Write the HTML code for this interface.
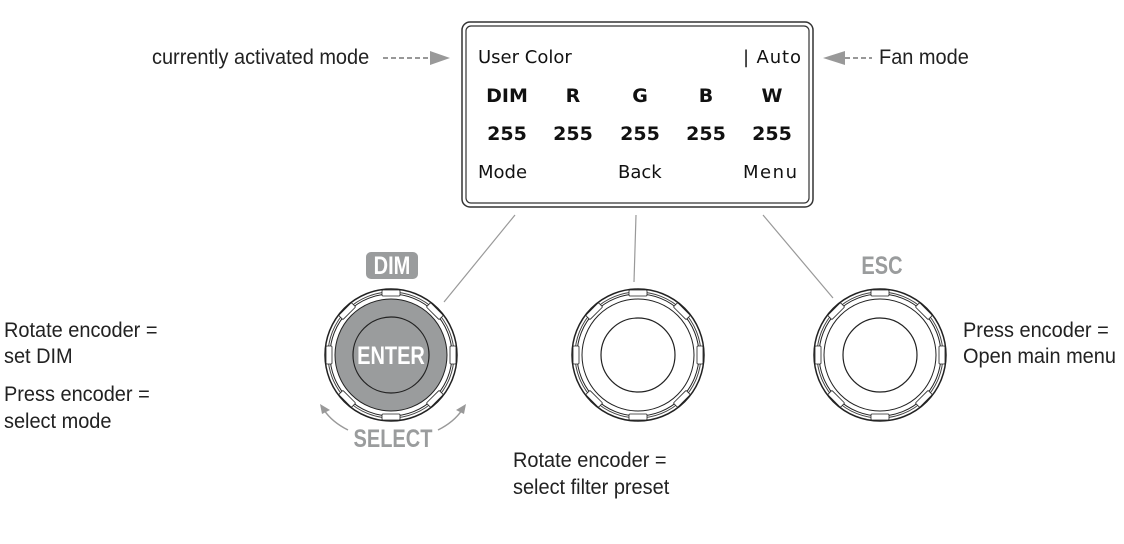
<!DOCTYPE html>
<html><head><style>
html,body{margin:0;padding:0;background:#fff;}
</style></head><body>
<svg width="1124" height="539" viewBox="0 0 1124 539" xmlns="http://www.w3.org/2000/svg">
<defs>
<g id="knob">
  <circle r="66" fill="none" stroke="#222" stroke-width="1.5"/>
  <circle r="63" fill="none" stroke="#444" stroke-width="1"/>
  <circle r="61" fill="none" stroke="#222" stroke-width="1"/>
  <circle r="56" fill="none" stroke="#222" stroke-width="1"/>
  <g fill="#fff" stroke="#222" stroke-width="0.8">
    <rect x="-9" y="-65" width="18" height="6" rx="1"/>
    <rect x="-9" y="-65" width="18" height="6" rx="1" transform="rotate(45)"/>
    <rect x="-9" y="-65" width="18" height="6" rx="1" transform="rotate(90)"/>
    <rect x="-9" y="-65" width="18" height="6" rx="1" transform="rotate(135)"/>
    <rect x="-9" y="-65" width="18" height="6" rx="1" transform="rotate(180)"/>
    <rect x="-9" y="-65" width="18" height="6" rx="1" transform="rotate(225)"/>
    <rect x="-9" y="-65" width="18" height="6" rx="1" transform="rotate(270)"/>
    <rect x="-9" y="-65" width="18" height="6" rx="1" transform="rotate(315)"/>
  </g>
</g>
</defs>

<!-- display -->
<rect x="462" y="22" width="351" height="185" rx="8" fill="none" stroke="#333" stroke-width="1.5"/>
<rect x="466" y="26" width="343" height="177" rx="5" fill="none" stroke="#333" stroke-width="1.2"/>
<g font-family="'DejaVu Sans', sans-serif" font-size="18" fill="#111">
  <text x="478" y="63">User Color</text>
  <text x="743" y="63" textLength="58">| Auto</text>
  <text x="478" y="178">Mode</text>
  <text x="618" y="178">Back</text>
  <text x="743" y="178" textLength="54">Menu</text>
  <g font-weight="bold" text-anchor="middle" font-size="19">
    <text x="507" y="102">DIM</text><text x="573" y="102">R</text><text x="640" y="102">G</text><text x="706" y="102">B</text><text x="772" y="102">W</text>
    <text x="507" y="140">255</text><text x="573" y="140">255</text><text x="640" y="140">255</text><text x="706" y="140">255</text><text x="772" y="140">255</text>
  </g>
</g>

<!-- side labels -->
<g font-family="'Liberation Sans', sans-serif" font-size="21" fill="#222">
  <g transform="scale(0.95 1)">
    <text x="160" y="64">currently activated mode</text>
    <text x="925.3" y="64">Fan mode</text>
    <text x="4.2" y="337">Rotate encoder =</text>
    <text x="4.2" y="363">set DIM</text>
    <text x="4.2" y="401">Press encoder =</text>
    <text x="4.2" y="428">select mode</text>
    <text x="1013.7" y="337">Press encoder =</text>
    <text x="1013.7" y="363">Open main menu</text>
    <text x="540" y="467">Rotate encoder =</text>
    <text x="540" y="494">select filter preset</text>
  </g>
</g>
<line x1="383" y1="58" x2="430" y2="58" stroke="#777" stroke-width="1.5" stroke-dasharray="5,3"/>
<polygon points="430,51 450,58 430,65" fill="#999"/>
<line x1="845" y1="58" x2="872" y2="58" stroke="#777" stroke-width="1.5" stroke-dasharray="5,3"/>
<polygon points="845,51 823,58 845,65" fill="#999"/>

<!-- connectors -->
<g stroke="#999" stroke-width="1.2">
  <line x1="515" y1="215" x2="444" y2="302"/>
  <line x1="636" y1="215" x2="634" y2="282"/>
  <line x1="763" y1="215" x2="833" y2="298"/>
</g>

<!-- knobs -->
<g transform="translate(391,355)">
  <circle r="56" fill="#9a9c9d"/>
  <use href="#knob"/>
  <circle r="38" fill="none" stroke="#222" stroke-width="1.2"/>
  <text y="9" text-anchor="middle" font-family="'Liberation Sans',sans-serif" font-weight="bold" font-size="25" fill="#fff" transform="scale(0.8 1)">ENTER</text>
</g>
<g transform="translate(638,355)"><use href="#knob"/><circle r="37" fill="none" stroke="#222" stroke-width="1.2"/></g>
<g transform="translate(880,355)"><use href="#knob"/><circle r="37" fill="none" stroke="#222" stroke-width="1.2"/></g>

<!-- DIM badge -->
<rect x="366" y="252" width="52" height="27" rx="5" fill="#9a9c9d"/>
<text x="392" y="274" text-anchor="middle" font-family="'Liberation Sans',sans-serif" font-weight="bold" font-size="25" fill="#fff" transform="translate(392 0) scale(0.8 1) translate(-392 0)">DIM</text>
<text x="882" y="274" text-anchor="middle" font-family="'Liberation Sans',sans-serif" font-weight="bold" font-size="25" fill="#9a9c9d" transform="translate(882 0) scale(0.8 1) translate(-882 0)">ESC</text>
<text x="393" y="447" text-anchor="middle" font-family="'Liberation Sans',sans-serif" font-weight="bold" font-size="25" fill="#9a9c9d" transform="translate(393 0) scale(0.8 1) translate(-393 0)">SELECT</text>
<!-- rotate arrows -->
<path d="M348,430 Q332,422 324,410" fill="none" stroke="#999" stroke-width="1.5"/>
<polygon points="320,404 330,410 322,414" fill="#999"/>
<path d="M438,430 Q454,422 462,410" fill="none" stroke="#999" stroke-width="1.5"/>
<polygon points="466,404 456,410 464,414" fill="#999"/>
</svg>
</body></html>
